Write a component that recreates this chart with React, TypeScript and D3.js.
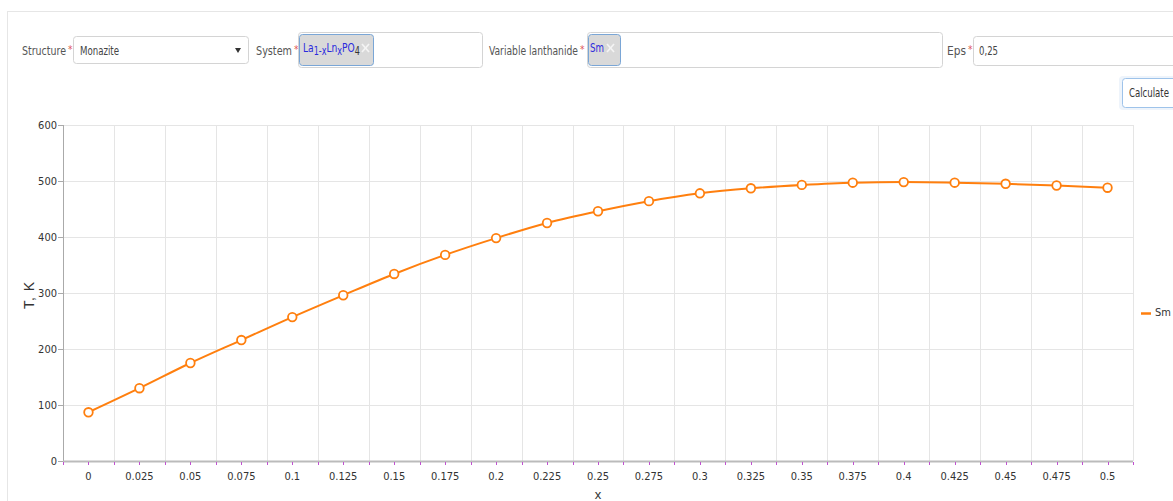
import React, { useMemo } from 'react';
import * as d3 from 'd3';

const X_LABELS = ['0', '0.025', '0.05', '0.075', '0.1', '0.125', '0.15', '0.175', '0.2', '0.225', '0.25',
  '0.275', '0.3', '0.325', '0.35', '0.375', '0.4', '0.425', '0.45', '0.475', '0.5'];
const SM_VALUES = [87, 130, 175, 216, 257, 296, 334, 368, 398, 425, 446,
  464, 478, 487, 493, 497, 498, 497, 495, 492, 488];
const Y_TICKS = [0, 100, 200, 300, 400, 500, 600];
const SERIES_NAME = 'Sm';

const W = 1173;
const H = 501;
const PLOT = { left: 63, right: 1133, top: 125, bottom: 461 };
const ORANGE = '#ff7f0e';
const CHART_FONT = '"DejaVu Sans Condensed", "Liberation Sans", Arial, sans-serif';
const FORM_FONT = '"DejaVu Sans Condensed", "Open Sans", sans-serif';

// plain text squeezed to the width it has in the form
function FitText({ x, y, text, len, fill = '#444', size = 12.5 }:
  { x: number; y: number; text: string; len: number; fill?: string; size?: number }) {
  return (
    <text x={x} y={y} fontSize={size} fill={fill} fontFamily={FORM_FONT} dominantBaseline="middle"
      textLength={len} lengthAdjust="spacingAndGlyphs">
      {text}
    </text>
  );
}

function Label({ x, y, text, len }: { x: number; y: number; text: string; len: number }) {
  return (
    <g>
      <FitText x={x} y={y} text={text} len={len} fill="#555" />
      <text x={x + len + 2} y={y - 1} fill="#e05555" fontSize={10} fontFamily={FORM_FONT} dominantBaseline="middle">*</text>
    </g>
  );
}

function ChipClose({ x, y }: { x: number; y: number }) {
  return (
    <g stroke="#f4f4f4" strokeWidth={1.6}>
      <line x1={x} y1={y - 4} x2={x + 7} y2={y + 4} />
      <line x1={x + 7} y1={y - 4} x2={x} y2={y + 4} />
    </g>
  );
}

export default function App() {
  const x = useMemo(
    () => d3.scaleBand<string>().domain(X_LABELS).range([PLOT.left, PLOT.right]).padding(0),
    []
  );
  const y = useMemo(
    () => d3.scaleLinear().domain([0, 600]).range([PLOT.bottom, PLOT.top]),
    []
  );
  const bw = x.bandwidth();
  const cx = (d: string) => (x(d) ?? 0) + bw / 2;

  const points = X_LABELS.map((d, i) => ({ px: cx(d), py: y(SM_VALUES[i]) }));
  const linePath = d3.line<{ px: number; py: number }>()
    .x((p) => p.px)
    .y((p) => p.py)
    .curve(d3.curveMonotoneX)(points) ?? '';

  const boundaries = [...X_LABELS.map((d) => x(d) ?? 0), PLOT.right];

  return (
    <svg
      width={W}
      height={H}
      style={{ position: 'absolute', left: 0, top: 0, background: '#fff' }}
    >
      {/* card frame */}
      <line x1={7} x2={W} y1={11.5} y2={11.5} stroke="#e6e6e6" />
      <line x1={7.5} x2={7.5} y1={11} y2={H} stroke="#e6e6e6" />

      {/* form controls */}
      <Label x={22} y={51} text="Structure" len={44} />
      <rect x={73.5} y={36.5} width={175} height={27} rx={3} fill="#fff" stroke="#d4d4d4" />
      <FitText x={80} y={51} text="Monazite" len={39} />
      <path d="M235,48 l6,0 l-3,5 z" fill="#333" />

      <Label x={256} y={51} text="System" len={36} />
      <rect x={298.5} y={32.5} width={184} height={35} rx={3} fill="#fff" stroke="#d4d4d4" />
      <rect x={299.5} y={34.5} width={74} height={31} rx={3} fill="#d9d9d9" stroke="#7aa6d6" />
      <g transform="translate(303,48) scale(0.78,1)">
        <text x={0} y={0} fontSize={13} fill="#2b2bdd" fontFamily={FORM_FONT} dominantBaseline="middle">
          La<tspan dy={4} fontSize={11.5}>1-x</tspan>
          <tspan dy={-4}>Ln</tspan>
          <tspan dy={4} fontSize={11.5}>x</tspan>
          <tspan dy={-4}>PO</tspan>
          <tspan dy={4} fontSize={11.5} fill="#333">4</tspan>
        </text>
      </g>
      <ChipClose x={362} y={48} />

      <Label x={489} y={51} text="Variable lanthanide" len={89} />
      <rect x={587.5} y={32.5} width={355} height={35} rx={3} fill="#fff" stroke="#d4d4d4" />
      <rect x={588.5} y={34.5} width={32} height={31} rx={3} fill="#d9d9d9" stroke="#7aa6d6" />
      <FitText x={590} y={48} text="Sm" len={14} fill="#2b2bdd" size={13} />
      <ChipClose x={607} y={48} />

      <Label x={947} y={51} text="Eps" len={19} />
      <rect x={973.5} y={36.5} width={210} height={29} rx={3} fill="#fff" stroke="#d4d4d4" />
      <FitText x={979} y={51} text="0,25" len={19} />

      <rect x={1119} y={76} width={70} height={34} rx={4} fill="#eef4fb" />
      <rect x={1122.5} y={78.5} width={70} height={29} rx={3} fill="#fff" stroke="#9ec3ea" />
      <FitText x={1129} y={93} text="Calculate" len={40} fill="#333" />

      {/* grid */}
      <g stroke="#e5e5e5" strokeWidth={1}>
        {Y_TICKS.map((t) => (
          <line key={t} x1={PLOT.left} x2={PLOT.right} y1={Math.round(y(t)) + 0.5} y2={Math.round(y(t)) + 0.5} />
        ))}
        {boundaries.map((b, i) => (
          <line key={i} x1={Math.round(b) + 0.5} x2={Math.round(b) + 0.5} y1={PLOT.top} y2={PLOT.bottom} />
        ))}
      </g>

      {/* y axis */}
      <line x1={PLOT.left + 0.5} x2={PLOT.left + 0.5} y1={PLOT.top} y2={PLOT.bottom} stroke="#aaa" />
      {Y_TICKS.map((t) => (
        <g key={t} transform={`translate(${PLOT.left},${Math.round(y(t)) + 0.5})`}>
          <line x1={-5} x2={0} stroke="#aaa" />
          <text x={-6} fontSize={11} textAnchor="end" dominantBaseline="middle" fill="#333" fontFamily={CHART_FONT}>
            {t}
          </text>
        </g>
      ))}
      <text
        transform={`translate(34,${(PLOT.top + PLOT.bottom) / 2 + 2}) rotate(-90)`}
        textAnchor="middle"
        fontSize={14}
        fill="#333"
        fontFamily='"Liberation Sans", Arial, sans-serif'
        letterSpacing={1}
      >
        T, K
      </text>

      {/* x axis */}
      <line x1={PLOT.left} x2={PLOT.right} y1={PLOT.bottom + 0.5} y2={PLOT.bottom + 0.5} stroke="#bbb" strokeWidth={2} />
      <g stroke="#c050d0">
        {boundaries.map((b, i) => (
          <line key={'b' + i} x1={Math.round(b) + 0.5} x2={Math.round(b) + 0.5} y1={PLOT.bottom + 1} y2={PLOT.bottom + 4} />
        ))}
        {X_LABELS.map((d) => (
          <line key={'c' + d} x1={Math.round(cx(d)) + 0.5} x2={Math.round(cx(d)) + 0.5} y1={PLOT.bottom + 1} y2={PLOT.bottom + 4} />
        ))}
      </g>
      {X_LABELS.map((d) => (
        <text key={d} x={cx(d)} y={477} fontSize={11} textAnchor="middle" dominantBaseline="middle" fill="#333" fontFamily={CHART_FONT}>
          {d}
        </text>
      ))}
      <text x={(PLOT.left + PLOT.right) / 2} y={499} fontSize={13} textAnchor="middle" fill="#333" fontFamily='"Liberation Sans", Arial, sans-serif'>
        x
      </text>

      {/* series */}
      <path d={linePath} fill="none" stroke={ORANGE} strokeWidth={2} />
      {points.map((p, i) => (
        <circle key={i} cx={p.px} cy={p.py} r={4.3} fill="#fff" stroke={ORANGE} strokeWidth={1.8} />
      ))}

      {/* legend */}
      <line x1={1141} x2={1151} y1={313.5} y2={313.5} stroke={ORANGE} strokeWidth={2.5} />
      <text x={1155} y={313} fontSize={11} dominantBaseline="middle" fill="#333" fontFamily={CHART_FONT}>
        {SERIES_NAME}
      </text>
    </svg>
  );
}
